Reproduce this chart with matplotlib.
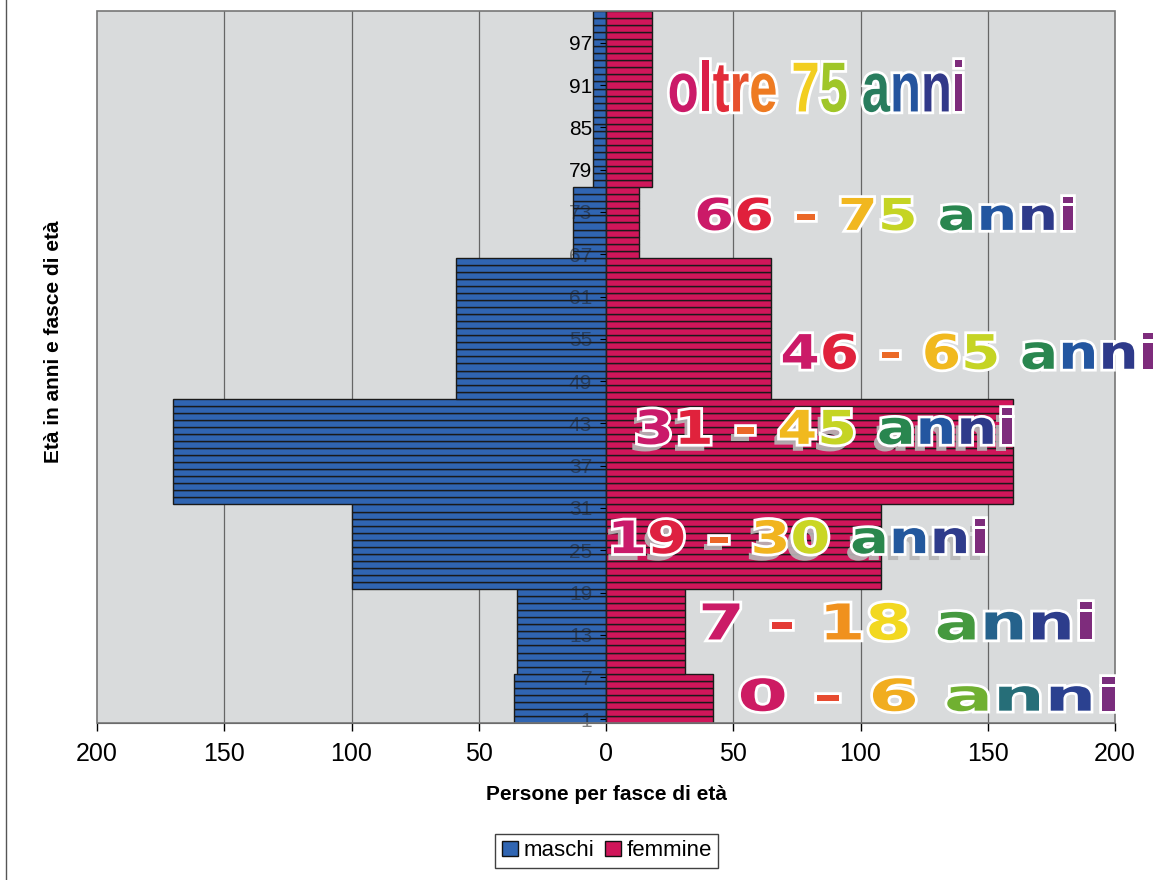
import matplotlib
matplotlib.use('Agg')
import numpy as np
import matplotlib.pyplot as plt
import matplotlib.patheffects as pe
from matplotlib.textpath import TextPath
from matplotlib.font_manager import FontProperties, findfont, get_font
from matplotlib.patches import PathPatch, Patch, Rectangle
from matplotlib.path import Path
from matplotlib.colors import LinearSegmentedColormap
from matplotlib.transforms import Affine2D
from matplotlib.lines import Line2D

plt.rcParams['font.family'] = ['Liberation Sans', 'DejaVu Sans']

# eta' (una barra per anno) e fasce
eta = np.arange(0, 101)
fascia_inizio = [0, 7, 19, 31, 46, 66, 76]
fascia_fine = [6, 18, 30, 45, 65, 75, 100]
maschi_fascia = [36, 35, 100, 170, 59, 13, 5]
femmine_fascia = [42, 31, 108, 160, 65, 13, 18]

tick_pos = [0, 6, 12, 18, 24, 30, 36, 42, 48, 54, 60, 66, 72, 78, 84, 90, 96]
tick_labels = ['1', '7', '13', '19', '25', '31', '37', '43', '49', '55',
               '61', '67', '73', '79', '85', '91', '97']

# scritte colorate delle fasce
etichette = ['0 - 6 anni', '7 - 18 anni', '19 - 30 anni', '31 - 45 anni',
             '46 - 65 anni', '66 - 75 anni', 'oltre 75 anni']
etich_x0 = [53, 38, 3, 12.5, 69.5, 36, 25]
etich_x1 = [200, 191, 149, 159.5, 215, 183.5, 140]
etich_y = [3.6, 14.0, 26.0, 41.6, 52.3, 71.8, 89.8]
etich_h = [4.7, 5.3, 4.8, 5.0, 5.1, 4.7, 7.1]
etich_font = ['DejaVu Sans'] * 6 + ['Liberation Sans']
etich_ombra = [False, False, True, True, False, False, False]

maschi = np.zeros(len(eta))
femmine = np.zeros(len(eta))
for s, e, m, f in zip(fascia_inizio, fascia_fine, maschi_fascia, femmine_fascia):
    maschi[s:e + 1] = m
    femmine[s:e + 1] = f

blu = '#3065b2'
rosso = '#d0165a'

arcobaleno = LinearSegmentedColormap.from_list('wordart', [
    (0.0, '#c2187a'), (0.15, '#e0203c'), (0.35, '#f08a1e'), (0.5, '#f2e520'),
    (0.58, '#86bc2a'), (0.68, '#2a8a48'), (0.8, '#2356a0'),
    (0.91, '#2e3a8a'), (1.0, '#8a2a7a')])


def wordart(ax, testo, x0, x1, yc, h, family, ombra):
    prop = FontProperties(family=family, weight='bold')
    font = get_font(findfont(prop))
    font.set_size(100, 72)
    paths = []
    xoff = 0.0
    for ch in testo:
        g = font.load_char(ord(ch))
        adv = g.linearHoriAdvance / 65536.0
        if ch != ' ':
            paths.append(TextPath((xoff, 0), ch, size=100, prop=prop))
        xoff += adv
    allp = Path.make_compound_path(*paths)
    ext = allp.get_extents()
    cap = TextPath((0, 0), '0', size=100, prop=prop).get_extents().height
    sx = (x1 - x0) / ext.width
    sy = h / cap
    tr = Affine2D().translate(-ext.x0, 0).scale(sx, sy).translate(x0, yc - h / 2) + ax.transData
    effetti = []
    if ombra:
        effetti.append(pe.SimplePatchShadow(offset=(-4, -5), shadow_rgbFace='0.72', alpha=0.9))
    effetti += [pe.Stroke(linewidth=4, foreground='white'), pe.Normal()]
    for p in paths:
        e = p.get_extents()
        frac = ((e.x0 + e.x1) / 2 - ext.x0) / ext.width
        patch = PathPatch(p, facecolor=arcobaleno(frac), edgecolor='none',
                          transform=tr, zorder=6, clip_on=False)
        patch.set_path_effects(effetti)
        ax.add_patch(patch)


fig = plt.figure(figsize=(11.58, 8.80), dpi=100)
ax = fig.add_axes([0.0838, 0.1784, 0.8791, 0.8091])
ax.set_facecolor('#d9dbdc')

# barre sotto le etichette dell'asse (axis zorder 1.5)
ax.barh(eta, -maschi, height=1.0, color=blu, edgecolor='#1a1a1a', linewidth=1.0, zorder=1.2)
ax.barh(eta, femmine, height=1.0, color=rosso, edgecolor='#1a1a1a', linewidth=1.0, zorder=1.2)

for gx in [-150, -100, -50, 50, 100, 150]:
    ax.axvline(gx, color='#666666', lw=0.9, zorder=0.8)

ax.set_xlim(-200, 200)
ax.set_ylim(-0.5, 100.5)

ax.set_xticks([-200, -150, -100, -50, 0, 50, 100, 150, 200])
ax.set_xticklabels(['200', '150', '100', '50', '0', '50', '100', '150', '200'])
ax.tick_params(axis='x', length=6, width=1, labelsize=18, pad=8)

ax.spines['left'].set_position(('data', 0))
ax.spines['left'].set_color('#222222')
ax.spines['left'].set_zorder(3)
ax.spines['top'].set_visible(False)
ax.spines['right'].set_visible(False)
ax.spines['bottom'].set_color('#333333')
ax.add_patch(Rectangle((0, 0), 1, 1, transform=ax.transAxes, fill=False,
                       edgecolor='#777777', lw=1.2, zorder=4, clip_on=False))

ax.set_yticks(tick_pos)
ax.set_yticklabels(tick_labels)
ax.tick_params(axis='y', length=4, labelsize=15, pad=6)
for lab, p in zip(ax.get_yticklabels(), tick_pos):
    if maschi[p] > 10:
        lab.set_color('#202020')
        lab.set_alpha(0.55)

ax.set_xlabel('Persone per fasce di età', fontsize=15, fontweight='bold')
ax.xaxis.set_label_coords(0.5, -0.087)
ax.set_ylabel('Età in anni e fasce di età', fontsize=15, fontweight='bold')
ax.yaxis.set_label_coords(-0.033, 0.535)

for t, x0, x1, y, h, fam, om in zip(etichette, etich_x0, etich_x1, etich_y,
                                    etich_h, etich_font, etich_ombra):
    wordart(ax, t, x0, x1, y, h, fam, om)

handles = [Patch(facecolor=blu, edgecolor='#111111', label='maschi'),
           Patch(facecolor=rosso, edgecolor='#111111', label='femmine')]
leg = fig.legend(handles=handles, loc='center', bbox_to_anchor=(0.524, 0.033),
                 ncol=2, fontsize=16, frameon=True, fancybox=False,
                 edgecolor='#111111', handlelength=0.7, handleheight=0.7,
                 handletextpad=0.25, columnspacing=0.5, borderpad=0.3)
leg.get_frame().set_linewidth(1.0)

fig.add_artist(Line2D([0.005, 0.005], [0, 1], transform=fig.transFigure,
                      color='#555555', lw=1))

fig.savefig('out.png', dpi=100)
